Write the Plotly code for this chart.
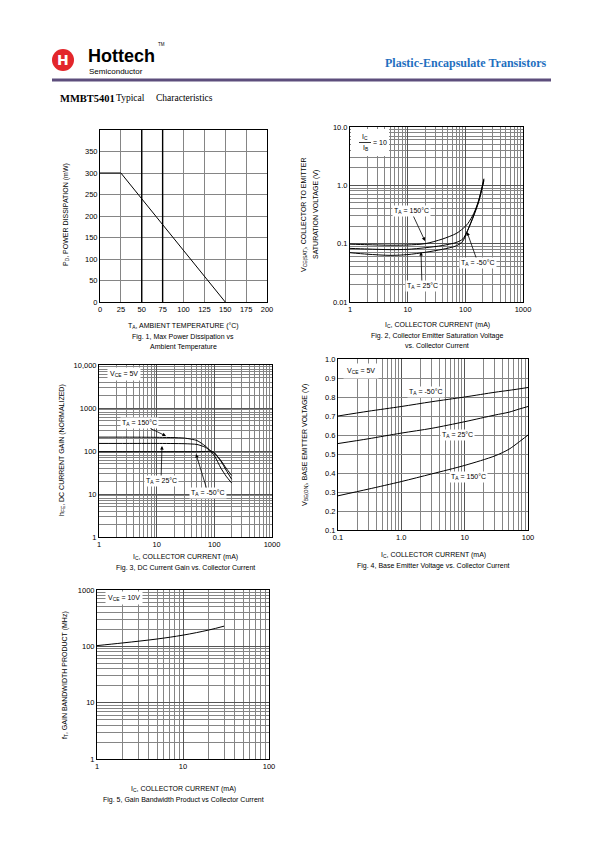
import plotly.graph_objects as go

W, H = 595, 842
OFF = 8  # page body margin of the html page
SANS = "Liberation Sans"
SERIF = "Liberation Serif"

# ---------------- data ----------------
# Fig 1
ta_c = [0, 25, 150]
pd_mw = [300, 300, 0]
fig1_xticks = [0, 25, 50, 75, 100, 125, 150, 175, 200]
fig1_yticks = [0, 50, 100, 150, 200, 250, 300, 350]

# Fig 2  VCE(sat) vs IC
ic2 = [1, 2, 5, 10, 20, 40, 70, 90, 110, 140, 170, 210]
vsat_150 = [0.098, 0.096, 0.094, 0.095, 0.100, 0.120, 0.150, 0.180, 0.220, 0.330, 0.550, 1.30]
vsat_25 = [0.083, 0.081, 0.079, 0.080, 0.085, 0.093, 0.105, 0.120, 0.170, 0.300, 0.520, 1.25]
vsat_m50 = [0.070, 0.066, 0.063, 0.065, 0.071, 0.080, 0.092, 0.110, 0.170, 0.310, 0.530, 1.20]
fig2_xticks = [1, 10, 100, 1000]
fig2_xlabels = ["1", "10", "100", "1000"]
fig2_yticks = [0.01, 0.1, 1, 10]
fig2_ylabels = ["0.01", "0.1", "1.0", "10.0"]

# Fig 3  hFE vs IC
ic3 = [1, 3, 10, 30, 50, 70, 85, 100, 130, 160, 200]
hfe_150 = [210, 210, 208, 200, 175, 130, 102, 88, 60, 40, 27]
hfe_25 = [150, 150, 150, 148, 142, 122, 102, 92, 58, 36, 22]
hfe_m50 = [96, 96, 96, 96, 96, 97, 98, 78, 40, 26, 18]
fig3_xticks = [1, 10, 100, 1000]
fig3_xlabels = ["1", "10", "100", "1000"]
fig3_yticks = [1, 10, 100, 1000, 10000]
fig3_ylabels = ["1", "10", "100", "1000", "10,000"]

# Fig 4  VBE(on) vs IC
ic4 = [0.1, 0.3, 1, 3, 10, 30, 50, 70, 100]
vbe_m50 = [0.70, 0.725, 0.75, 0.775, 0.80, 0.825, 0.835, 0.842, 0.85]
vbe_25 = [0.555, 0.58, 0.61, 0.635, 0.67, 0.705, 0.72, 0.735, 0.75]
vbe_150 = [0.28, 0.315, 0.355, 0.395, 0.44, 0.49, 0.525, 0.56, 0.60]
fig4_xticks = [0.1, 1, 10, 100]
fig4_xlabels = ["0.1", "1.0", "10", "100"]
fig4_yticks = [0.1, 0.2, 0.3, 0.4, 0.5, 0.6, 0.7, 0.8, 0.9, 1.0]
fig4_ylabels = ["0.1", "0.2", "0.3", "0.4", "0.5", "0.6", "0.7", "0.8", "0.9", "1.0"]

# Fig 5  fT vs IC
ic5 = [1, 2, 5, 10, 20, 30]
ft_mhz = [103, 115, 135, 158, 195, 228]
fig5_xticks = [1, 10, 100]
fig5_xlabels = ["1", "10", "100"]
fig5_yticks = [1, 10, 100, 1000]
fig5_ylabels = ["1", "10", "100", "1000"]


# ---------------- helpers ----------------
def px(x):
    return (x - OFF) / W


def py(y):
    return 1 - (y - OFF) / H


def minor_vals(lo_exp, hi_exp):
    out = []
    for e in range(lo_exp, hi_exp):
        for k in range(2, 10):
            out.append(k * 10 ** e)
    return out


GRID = "#858585"
LINE = dict(color="black", width=1)

fig = go.Figure()

# traces
fig.add_trace(go.Scatter(x=ta_c, y=pd_mw, mode="lines", line=LINE, xaxis="x", yaxis="y"))
for ys in (vsat_150, vsat_25, vsat_m50):
    fig.add_trace(go.Scatter(x=ic2, y=ys, mode="lines", line=dict(color="black", width=1, shape="spline", smoothing=0.8), xaxis="x2", yaxis="y2"))
for ys in (hfe_150, hfe_25, hfe_m50):
    fig.add_trace(go.Scatter(x=ic3, y=ys, mode="lines", line=dict(color="black", width=1, shape="spline", smoothing=0.6), xaxis="x3", yaxis="y3"))
for ys in (vbe_m50, vbe_25, vbe_150):
    fig.add_trace(go.Scatter(x=ic4, y=ys, mode="lines", line=dict(color="black", width=1, shape="spline", smoothing=0.8), xaxis="x4", yaxis="y4"))
fig.add_trace(go.Scatter(x=ic5, y=ft_mhz, mode="lines", line=dict(color="black", width=1, shape="spline"), xaxis="x5", yaxis="y5"))


def ax_common(**kw):
    d = dict(showline=True, mirror=True, linecolor="black", linewidth=1, ticks="",
             showgrid=True, gridcolor=GRID, gridwidth=0.8, zeroline=False,
             tickfont=dict(family=SANS, size=7.5, color="black"), fixedrange=True)
    d.update(kw)
    return d


def log_axis(lo, hi, tv, tt, dom, anchor):
    return ax_common(type="log", range=[lo, hi], tickvals=tv, ticktext=tt, domain=dom, anchor=anchor,
                     gridcolor="#555555", gridwidth=0.9,
                     minor=dict(tickvals=minor_vals(lo, hi), showgrid=True, gridcolor=GRID, gridwidth=0.7, ticks=""))


fig.update_layout(
    width=W, height=H, margin=dict(l=0, r=0, t=0, b=0, autoexpand=False),
    paper_bgcolor="white", plot_bgcolor="white", showlegend=False,
    xaxis=ax_common(range=[0, 200], tickvals=fig1_xticks, domain=[px(100), px(267)], anchor="y"),
    yaxis=ax_common(range=[0, 400], tickvals=fig1_yticks, domain=[py(302), py(130)], anchor="x"),
    xaxis2=log_axis(0, 3, fig2_xticks, fig2_xlabels, [px(350), px(523)], "y2"),
    yaxis2=log_axis(-2, 1, fig2_yticks, fig2_ylabels, [py(302), py(127)], "x2"),
    xaxis3=log_axis(0, 3, fig3_xticks, fig3_xlabels, [px(99), px(272)], "y3"),
    yaxis3=log_axis(0, 4, fig3_yticks, fig3_ylabels, [py(537), py(365)], "x3"),
    xaxis4=log_axis(-1, 2, fig4_xticks, fig4_xlabels, [px(338), px(528)], "y4"),
    yaxis4=ax_common(range=[0.1, 1.0], tickvals=fig4_yticks, ticktext=fig4_ylabels,
                     domain=[py(530), py(359)], anchor="x4"),
    xaxis5=log_axis(0, 2, fig5_xticks, fig5_xlabels, [px(97), px(269)], "y5"),
    yaxis5=log_axis(0, 3, fig5_yticks, fig5_ylabels, [py(759), py(590)], "x5"),
)

shapes = []
# heavier scan lines in fig 1
for xv in (50, 75):
    shapes.append(dict(type="line", xref="x", yref="y domain", x0=xv, x1=xv, y0=0, y1=1,
                       line=dict(color="black", width=1.4)))
# header logo and rule
shapes.append(dict(type="circle", xref="paper", yref="paper", x0=px(52), x1=px(74), y0=py(71), y1=py(49),
                   fillcolor="#E3262B", line=dict(width=0)))
shapes.append(dict(type="line", xref="paper", yref="paper", x0=px(52), x1=px(551), y0=py(80), y1=py(80),
                   line=dict(color="#5D4E7C", width=3)))
# fig 2 fraction box (white) and fraction bar
shapes.append(dict(type="rect", xref="paper", yref="paper", x0=px(351), x1=px(389), y0=py(156), y1=py(129),
                   fillcolor="white", line=dict(width=0), layer="above"))
shapes.append(dict(type="line", xref="paper", yref="paper", x0=px(359), x1=px(371), y0=py(142.5), y1=py(142.5),
                   line=dict(color="black", width=0.8), layer="above"))
fig.update_layout(shapes=shapes)

ann = []


def txt(x, y, s, size=7, family=SANS, color="black", xanchor="center", yanchor="middle", **kw):
    ann.append(dict(x=px(x), y=py(y), xref="paper", yref="paper", text=s, showarrow=False,
                    xanchor=xanchor, yanchor=yanchor,
                    font=dict(family=family, size=size, color=color), **kw))


def arrow(hx, hy, tx, ty, s, size=7):
    ann.append(dict(x=px(hx), y=py(hy), xref="paper", yref="paper", text=s, showarrow=True,
                    ax=tx - hx, ay=ty - hy, arrowhead=2, arrowsize=0.9, arrowwidth=0.8,
                    arrowcolor="black", bgcolor="white", borderpad=1,
                    font=dict(family=SANS, size=size, color="black")))


# header
txt(63, 60, "<b>H</b>", size=14, family="DejaVu Sans", color="white")
txt(86, 56, "<b>Hottech</b>", size=18, xanchor="left")
txt(156, 44, "TM", size=4.5, xanchor="left")
txt(87, 71, "Semiconductor", size=8, xanchor="left")
txt(549, 63, "<b>Plastic-Encapsulate Transistors</b>", size=12, family=SERIF, color="#1F6FC0", xanchor="right")
txt(58, 98, "<b>MMBT5401</b>", size=10.5, family=SERIF, xanchor="left")
txt(114, 98, "Typical", size=9.5, family=SERIF, xanchor="left")
txt(154, 98, "Characteristics", size=9.5, family=SERIF, xanchor="left")

# Fig 1 text
txt(66, 215, "P<sub>D</sub>, POWER DISSIPATION (mW)", textangle=-90)
txt(183, 326, "T<sub>A</sub>, AMBIENT TEMPERATURE (°C)")
txt(183, 337, "Fig. 1, Max Power Dissipation vs")
txt(183, 347, "Ambient Temperature")

# Fig 2 text
txt(304, 215, "V<sub>CE(SAT)</sub>, COLLECTOR TO EMITTER", textangle=-90)
txt(316, 215, "SATURATION VOLTAGE (V)", textangle=-90)
txt(437, 325, "I<sub>C</sub>, COLLECTOR CURRENT (mA)")
txt(437, 336, "Fig. 2, Collector Emitter Saturation Voltage")
txt(437, 345, "vs. Collector Current")
txt(365, 137, "I<sub>C</sub>", size=7)
txt(365, 148, "I<sub>B</sub>", size=7)
txt(380, 142.5, "= 10", size=7)
arrow(425, 241, 411, 211, "T<sub>A</sub> = 150°C")
arrow(467, 232, 478, 263, "T<sub>A</sub> = -50°C")
arrow(421, 252, 422, 286, "T<sub>A</sub> = 25°C")

# Fig 3 text
txt(62, 450, "h<sub>FE</sub>, DC CURRENT GAIN (NORMALIZED)", textangle=-90)
txt(185, 557, "I<sub>C</sub>, COLLECTOR CURRENT (mA)")
txt(185, 568, "Fig. 3, DC Current Gain vs. Collector Current")
txt(124, 374, "V<sub>CE</sub> = 5V", bgcolor="white", borderpad=2)
arrow(166, 436, 139, 423, "T<sub>A</sub> = 150°C")
arrow(162, 446, 161, 481, "T<sub>A</sub> = 25°C")
arrow(196, 454, 208, 493, "T<sub>A</sub> = -50°C")

# Fig 4 text
txt(305, 445, "V<sub>BE(ON)</sub>, BASE EMITTER VOLTAGE (V)", textangle=-90)
txt(433, 555, "I<sub>C</sub>, COLLECTOR CURRENT (mA)")
txt(433, 566, "Fig. 4, Base Emitter Voltage vs. Collector Current")
txt(361, 371, "V<sub>CE</sub> = 5V", bgcolor="white", borderpad=3)
txt(426, 392, "T<sub>A</sub> = -50°C", bgcolor="white", borderpad=1)
txt(457, 435, "T<sub>A</sub> = 25°C", bgcolor="white", borderpad=1)
txt(468, 477, "T<sub>A</sub> = 150°C", bgcolor="white", borderpad=1)

# Fig 5 text
txt(65, 675, "f<sub>T</sub>, GAIN BANDWIDTH PRODUCT (MHz)", textangle=-90)
txt(183, 789, "I<sub>C</sub>, COLLECTOR CURRENT (mA)")
txt(183, 800, "Fig. 5, Gain Bandwidth Product vs Collector Current")
txt(124, 598, "V<sub>CE</sub> = 10V", bgcolor="white", borderpad=2)

fig.update_layout(annotations=ann)
fig.write_html("out.html")
